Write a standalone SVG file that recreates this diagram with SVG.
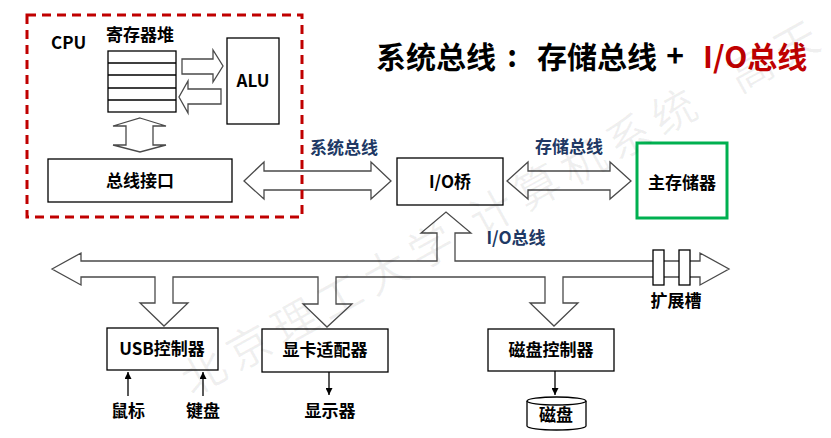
<svg xmlns="http://www.w3.org/2000/svg" width="831" height="438" viewBox="0 0 831 438">
<defs>
<style>
.box{fill:#fff;stroke:#000;stroke-width:1.3}
.blk{fill:#fff;stroke:#4a4a4a;stroke-width:1.3;stroke-linejoin:miter}
.t{font-family:"Noto Sans CJK SC","Noto Sans",sans-serif;font-weight:700;font-size:17px;fill:#000;text-anchor:middle}
.ttl{font-family:"Noto Sans CJK SC","Noto Sans",sans-serif;font-weight:700;font-size:30px;fill:#000}
.red{fill:#c00000}
.blue{fill:#203864}
.ln{stroke:#000;stroke-width:1.3;fill:none}
</style>
<marker id="ah" viewBox="0 0 10 10" refX="10" refY="5" markerWidth="7" markerHeight="7" markerUnits="userSpaceOnUse" orient="auto">
<path d="M0,0 L10,5 L0,10 Z" fill="#000"/>
</marker>
</defs>
<rect width="831" height="438" fill="#fff"/>

<g id="connectors">
<path id="sysbus" class="blk" d="M244,181 L264,162 L264,171 L371,171 L371,162 L391,181 L371,199 L371,190 L264,190 L264,199 Z"/>
<path id="membus" class="blk" d="M507,181 L528,162 L528,171 L610,171 L610,162 L631,181 L610,199 L610,190 L528,190 L528,199 Z"/>
<path id="iobus" class="blk" d="M52,269 L81,253 L81,261 L437,261 L437,233 L421,233 L446,212 L471,233 L455,233 L455,261 L700,261 L700,253 L729,269 L700,285 L700,277 L563,277 L563,303 L578,303 L554,326 L530,303 L545,303 L545,277 L336,277 L336,304 L352,304 L327,327 L303,304 L318,304 L318,277 L173,277 L173,303 L188,303 L164,326 L140,303 L155,303 L155,277 L81,277 L81,285 Z"/>
<path class="blk" d="M182,59 L213,59 L213,50 L223,66 L213,82 L213,74 L182,74 Z"/>
<path class="blk" d="M221,89 L188,89 L188,81 L179,97 L188,113 L188,104 L221,104 Z"/>
<path class="blk" d="M140,118 L166,126 L153,126 L153,145 L166,145 L140,152 L113,145 L126,145 L126,126 L113,126 Z"/>
<line class="ln" x1="128" y1="396" x2="128" y2="372" marker-end="url(#ah)"/>
<line class="ln" x1="203" y1="396" x2="203" y2="372" marker-end="url(#ah)"/>
<line class="ln" x1="329" y1="372" x2="329" y2="395" marker-end="url(#ah)"/>
<line class="ln" x1="555" y1="371" x2="555" y2="395" marker-end="url(#ah)"/>
</g>

<g id="cpu">
<rect x="27" y="15" width="275" height="202" fill="none" stroke="#c00000" stroke-width="3" stroke-dasharray="9 6"/>
<text class="t" x="51" y="49" style="text-anchor:start">CPU</text>
</g>

<g id="regfile">
<text class="t" x="140" y="41">寄存器堆</text>
<rect class="box" x="108" y="51" width="68" height="61"/>
<path class="ln" d="M108,63 H176 M108,75 H176 M108,88 H176 M108,100 H176"/>
</g>

<g id="alu">
<rect class="box" x="227" y="38" width="52" height="86"/>
<text class="t" x="253" y="87">ALU</text>
</g>

<g id="businterface">
<rect class="box" x="48" y="159" width="184" height="43"/>
<text class="t" x="140" y="187">总线接口</text>
</g>

<g id="iobridge">
<rect class="box" x="397" y="158" width="106" height="47"/>
<text class="t" x="450" y="188">I/O桥</text>
</g>

<g id="mainmem">
<rect x="637" y="143" width="90" height="75" fill="#fff" stroke="#00b050" stroke-width="3"/>
<text class="t" x="682" y="189">主存储器</text>
</g>

<g id="usb">
<rect class="box" x="107" y="328" width="111" height="42"/>
<text class="t" x="162" y="355">USB控制器</text>
</g>

<g id="gpu">
<rect class="box" x="262" y="329" width="126" height="43"/>
<text class="t" x="325" y="356">显卡适配器</text>
</g>

<g id="diskctrl">
<rect class="box" x="488" y="329" width="126" height="42"/>
<text class="t" x="551" y="356">磁盘控制器</text>
</g>

<g id="disk">
<path class="box" d="M527,401 A29.5,4 0 0 1 586,401 L586,426 A29.5,4 0 0 1 527,426 Z"/>
<path class="ln" d="M527,401 A29.5,4 0 0 0 586,401"/>
<text class="t" x="556" y="421">磁盘</text>
</g>

<g id="slots">
<rect class="box" x="653" y="250" width="11" height="35"/>
<rect class="box" x="679" y="250" width="11" height="35"/>
<text class="t" x="676" y="307">扩展槽</text>
</g>

<g id="labels">
<text class="t blue" x="344" y="154">系统总线</text>
<text class="t blue" x="569" y="153">存储总线</text>
<text class="t blue" x="516" y="244">I/O总线</text>
<text class="t" x="128" y="417">鼠标</text>
<text class="t" x="203" y="417">键盘</text>
<text class="t" x="330" y="417">显示器</text>
</g>

<g id="title">
<text class="ttl" x="376" y="68">系统总线</text>
<text class="ttl" x="512" y="67" text-anchor="middle">:</text>
<text class="ttl" x="537" y="68">存储总线</text>
<text class="ttl" x="675" y="67" text-anchor="middle">+</text>
<text class="ttl red" x="703" y="68">I/O总线</text>
</g>

<text x="192" y="397" transform="rotate(-29 192 397)" style="font-family:'Noto Sans CJK SC',sans-serif;font-size:44px;letter-spacing:8px;white-space:pre;fill:#000;fill-opacity:0.06">北京理工大学 计算机系统  高天</text>
</svg>
